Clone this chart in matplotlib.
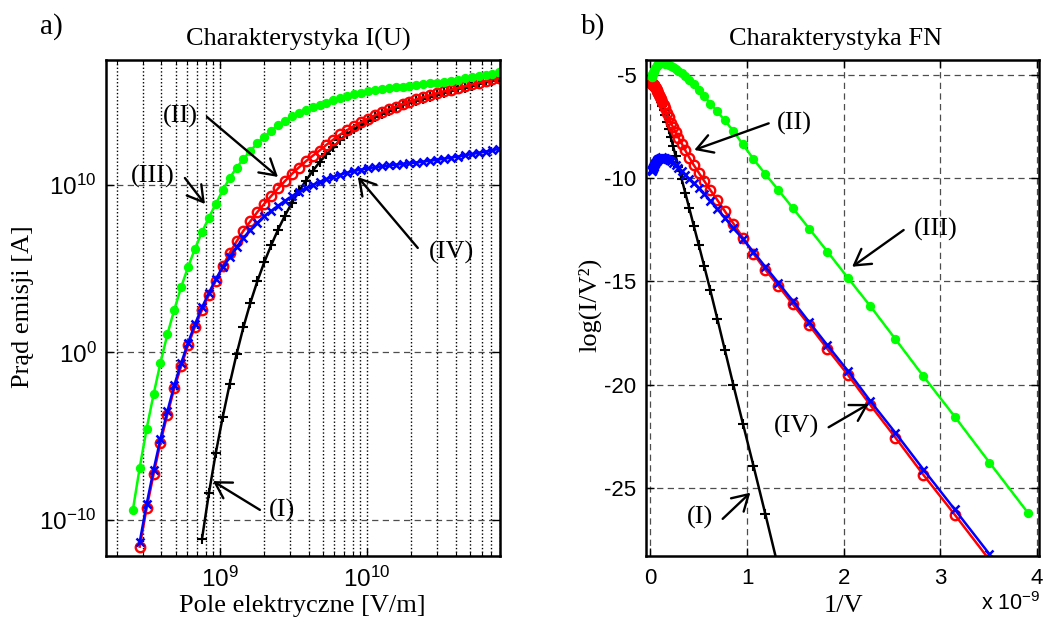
import numpy as np
import matplotlib
matplotlib.use("Agg")
import matplotlib.pyplot as plt
from matplotlib.ticker import LogLocator, NullLocator, FixedLocator, LogFormatterSciNotation

plt.rcParams['font.family'] = 'Liberation Sans'
plt.rcParams['mathtext.fontset'] = 'custom'
plt.rcParams['mathtext.rm'] = 'Liberation Sans'
plt.rcParams['mathtext.default'] = 'regular'
plt.rcParams['axes.unicode_minus'] = False

field = [2.559e8, 2.851e8, 3.177e8, 3.540e8, 3.945e8, 4.395e8, 4.898e8, 5.458e8, 6.081e8, 6.776e8,
         7.551e8, 8.414e8, 9.376e8, 1.045e9, 1.164e9, 1.297e9, 1.445e9, 1.611e9, 1.795e9, 2.000e9,
         2.228e9, 2.483e9, 2.767e9, 3.083e9, 3.436e9, 3.828e9, 4.266e9, 4.753e9, 5.297e9, 5.902e9,
         6.577e9, 7.328e9, 8.166e9, 9.099e9, 1.014e10, 1.130e10, 1.259e10, 1.403e10, 1.563e10, 1.742e10,
         1.941e10, 2.163e10, 2.410e10, 2.685e10, 2.992e10, 3.334e10, 3.715e10, 4.140e10, 4.613e10, 5.140e10,
         5.728e10, 6.383e10, 7.112e10, 7.925e10]

# log10(I/V^2) for each curve
# (I) black: starts at field[10]
fn_black = [-28.89, -26.26, -23.94, -21.89, -20.03, -18.33, -16.80, -15.44, -14.26, -13.22,
            -12.30, -11.46, -10.71, -10.05, -9.45, -8.92, -8.43, -7.99, -7.61, -7.29,
            -6.94, -6.68, -6.49, -6.32, -6.18, -6.06, -5.95, -5.86, -5.79, -5.73,
            -5.68, -5.64, -5.61, -5.58, -5.56, -5.54, -5.53, -5.52, -5.51, -5.50,
            -5.49, -5.49, -5.48, -5.48]
# (II) red: starts at field[1]
fn_red = [-28.50, -26.30, -24.38, -22.57, -20.99, -19.52, -18.28, -17.13, -16.12,
          -15.22, -14.43, -13.66, -12.88, -12.20, -11.60, -11.05, -10.58, -10.13, -9.73,
          -9.36, -9.00, -8.65, -8.32, -8.03, -7.76, -7.52, -7.30, -7.05, -6.83,
          -6.62, -6.45, -6.30, -6.17, -6.05, -5.95, -5.86, -5.78, -5.71, -5.65,
          -5.60, -5.56, -5.53, -5.50, -5.48, -5.46, -5.45, -5.44, -5.43, -5.42,
          -5.41, -5.41, -5.40, -5.40]
# (III) green: starts at field[0]
fn_green = [-26.23, -23.78, -21.55, -19.60, -17.80, -16.20, -14.82, -13.56, -12.45, -11.46,
            -10.57, -9.80, -9.07, -8.36, -7.72, -7.20, -6.76, -6.38, -6.02, -5.72,
            -5.45, -5.23, -5.04, -4.88, -4.78, -4.69, -4.62, -4.57, -4.53, -4.48,
            -4.45, -4.43, -4.42, -4.42, -4.43, -4.45, -4.48, -4.52, -4.56, -4.61,
            -4.66, -4.70, -4.75, -4.79, -4.84, -4.87, -4.91, -4.94, -4.97, -5.00,
            -5.03, -5.05, -5.07, -5.08]
# (IV) blue: starts at field[1]
fn_blue = [-28.22, -26.05, -24.12, -22.34, -20.80, -19.33, -18.10, -16.98, -15.96,
           -15.07, -14.29, -13.57, -12.95, -12.42, -11.93, -11.48, -11.10, -10.76, -10.48,
           -10.25, -10.03, -9.83, -9.65, -9.50, -9.37, -9.26, -9.17, -9.10, -9.05,
           -9.02, -9.00, -8.99, -9.00, -9.02, -9.05, -9.09, -9.13, -9.18, -9.23,
           -9.28, -9.33, -9.37, -9.41, -9.45, -9.48, -9.51, -9.54, -9.56, -9.58,
           -9.60, -9.62, -9.63, -9.64]

E = np.array(field)
curves = [
    (E[10:], np.array(fn_black), dict(color='k', marker='+', ms=7, mew=1.5)),
    (E[1:], np.array(fn_red), dict(color='r', marker='o', ms=6.8, mew=1.7, mfc='none')),
    (E[1:], np.array(fn_blue), dict(color='b', marker='x', ms=6, mew=1.8)),
    (E[0:], np.array(fn_green), dict(color=(0, 1, 0), marker='o', ms=5.5, mew=1.2)),
]

W, H = 1046, 621
fig = plt.figure(figsize=(W / 100, H / 100), dpi=100)
ax1 = fig.add_axes([106.3 / W, 1 - 556 / H, 393.7 / W, 496 / H])
ax2 = fig.add_axes([646 / W, 1 - 556 / H, 393 / W, 496 / H])

serif = 'Liberation Serif'
dash = (0, (5, 3.5))
dots = (0, (1, 1.6))

# ---- a) I(U) ----
for e, fn, st in curves:
    ax1.plot(e, 10 ** fn * e ** 2, '-', lw=1.8, **st)
ax1.set_xscale('log')
ax1.set_yscale('log')
ax1.set_xlim(1.69e8, 8e10)
ax1.set_ylim(10 ** -12.15, 10 ** 17.46)
ax1.yaxis.set_major_locator(FixedLocator([1e-10, 1e0, 1e10]))
ax1.yaxis.set_minor_locator(NullLocator())
ax1.yaxis.set_major_formatter(LogFormatterSciNotation())
ax1.xaxis.set_major_locator(FixedLocator([1e9, 1e10]))
ax1.xaxis.set_minor_locator(LogLocator(base=10, subs=np.arange(2, 10)))
ax1.xaxis.set_major_formatter(LogFormatterSciNotation())
ax1.grid(True, which='major', axis='y', linestyle=dash, color='0.3', lw=0.9)
ax1.grid(True, which='both', axis='x', linestyle=dots, color='k', lw=1.0)
ax1.tick_params(which='both', direction='in', top=True, right=True, labelsize=17.5)
ax1.tick_params(which='major', length=6, width=1)
ax1.tick_params(which='minor', length=3, width=0.8)
ax1.tick_params(axis='x', pad=8)
ax1.tick_params(axis='y', pad=7)

def arrow(ax, tail, head):
    ax.annotate('', xy=head, xytext=tail,
                arrowprops=dict(arrowstyle='->,head_length=0.56,head_width=0.33',
                                lw=1.7, color='k', mutation_scale=20,
                                shrinkA=0, shrinkB=0))

def label(ax, x, y, s):
    ax.text(x, y, s, ha='center', va='center', fontsize=19, family=serif)

label(ax1, 5.35e8, 1.3e14, '(II)')
arrow(ax1, (8.16e8, 1.15e14), (2.48e9, 3.0e10))
label(ax1, 3.51e8, 3.44e10, '(III)')
arrow(ax1, (5.78e8, 2.6e10), (7.91e8, 7.3e8))
label(ax1, 3.76e10, 1e6, '(IV)')
arrow(ax1, (2.21e10, 1.74e6), (8.65e9, 3.0e10))
label(ax1, 2.64e9, 3.5e-10, '(I)')
arrow(ax1, (1.87e9, 4e-10), (8.96e8, 2.1e-8))

# ---- b) FN ----
for e, fn, st in curves:
    ax2.plot(1e9 / e, fn, '-', lw=1.8, **st)
ax2.set_xlim(-0.045, 4.02)
ax2.set_ylim(-28.31, -4.27)
ax2.set_xticks([0, 1, 2, 3, 4])
ax2.set_yticks([-25, -20, -15, -10, -5])
ax2.grid(True, linestyle=dash, color='0.3', lw=0.9)
ax2.tick_params(direction='in', top=True, right=True, labelsize=16, length=6, width=1)
ax2.tick_params(axis='x', pad=9)
ax2.tick_params(axis='y', pad=7)

label(ax2, 1.49, -7.33, '(II)')
arrow(ax2, (1.224, -7.34), (0.455, -8.63))
label(ax2, 2.948, -12.46, '(III)')
arrow(ax2, (2.62, -12.51), (2.087, -14.29))
label(ax2, 1.51, -22.05, '(IV)')
arrow(ax2, (1.844, -22.07), (2.258, -20.94))
label(ax2, 0.517, -26.46, '(I)')
arrow(ax2, (0.748, -26.51), (1.034, -25.24))

for ax in (ax1, ax2):
    for sp in ax.spines.values():
        sp.set_linewidth(1.8)

def ftext(px, py, s, **kw):
    fig.text(px / W, 1 - py / H, s, ha='center', va='center', **kw)

ftext(51, 27, 'a)', fontsize=21, family=serif)
ftext(593, 27, 'b)', fontsize=21, family=serif)
ftext(298, 39, 'Charakterystyka I(U)', fontsize=19, family=serif)
ftext(836, 39, 'Charakterystyka FN', fontsize=19, family=serif)
ftext(23, 307, 'Prąd emisji [A]', fontsize=19, family=serif, rotation=90)
ftext(302, 606, 'Pole elektryczne [V/m]', fontsize=19, family=serif)
ftext(590, 305, 'log(I/V²)', fontsize=19, family=serif, rotation=90)
ftext(843, 606, '1/V', fontsize=19, family=serif)
fig.text(1040 / W, 1 - 604 / H, 'x 10$^{-9}$', ha='right', va='center', fontsize=15.5)

fig.savefig('out.png', dpi=100)
